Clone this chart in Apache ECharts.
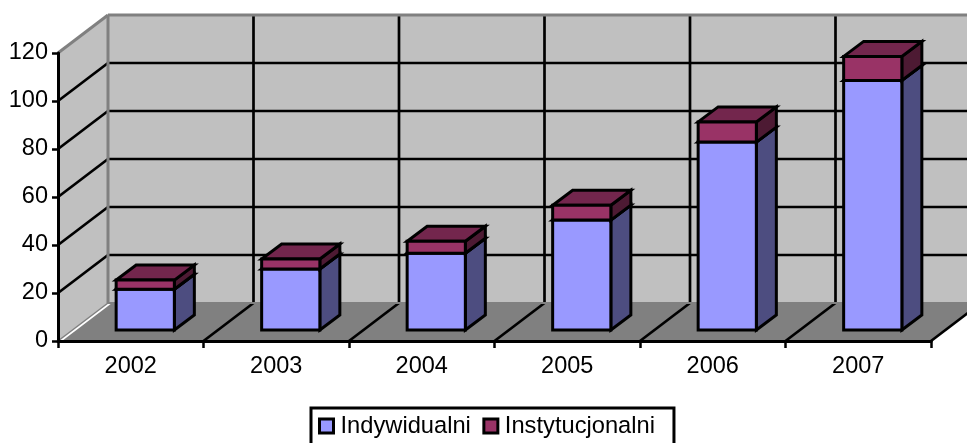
<!DOCTYPE html>
<html>
<head>
<meta charset="utf-8">
<style>
  html, body { margin: 0; padding: 0; background: #fff; overflow: hidden; }
  #chart { width: 967px; height: 443px; }
</style>
</head>
<body>
<div id="chart"></div>
<script src="https://cdn.jsdelivr.net/npm/echarts@6/dist/echarts.min.js"></script>
<script>
var categories = ['2002', '2003', '2004', '2005', '2006', '2007']
var indywidualni = [17, 25.4, 32, 45.8, 78.3, 104]
var instytucjonalni = [3.8, 4.2, 5, 6.2, 8.4, 10]
var yTicks = [20, 40, 60, 80, 100, 120]

var FONT = 'Liberation Sans, Arial, sans-serif'
// offsets of the fake 3d box, in px
var WALL_DX = 50
var WALL_DY = -38
var BAR_DX = 14.5
var BAR_DY = -11
var DEPTH_DX = 20
var DEPTH_DY = -15

function line (x1, y1, x2, y2, color, width) {
  return {
    type: 'line',
    shape: { x1: x1, y1: y1, x2: x2, y2: y2 },
    style: { stroke: color, lineWidth: width || 2.7 }
  }
}

function poly (points, fill, stroke) {
  return {
    type: 'polygon',
    shape: { points: points },
    style: { fill: fill, stroke: stroke, lineWidth: stroke ? 3 : 0, lineJoin: 'miter' }
  }
}

function renderFrame (params, api) {
  var band = api.size([1, 0])[0]
  var start = api.coord([0, 0])[0] - band / 2
  var end = start + band * categories.length
  var y0 = api.coord([0, 0])[1]
  var yTop = api.coord([0, 120])[1]
  var children = [
    // side wall, back wall, floor
    poly([[start, y0], [start + WALL_DX, y0 + WALL_DY], [start + WALL_DX, yTop + WALL_DY], [start, yTop]], '#c0c0c0'),
    poly([[start + WALL_DX, y0 + WALL_DY], [end + WALL_DX, y0 + WALL_DY], [end + WALL_DX, yTop + WALL_DY], [start + WALL_DX, yTop + WALL_DY]], '#c0c0c0'),
    poly([[start + 4, y0], [end, y0], [end + WALL_DX, y0 + WALL_DY], [start + WALL_DX + 4, y0 + WALL_DY]], '#808080')
  ]
  yTicks.forEach(function (t) {
    var y = api.coord([0, t])[1]
    if (t < 120) {
      children.push(line(start, y, start + WALL_DX, y + WALL_DY, '#000'))
      children.push(line(start + WALL_DX, y + WALL_DY, end + WALL_DX, y + WALL_DY, '#000'))
    }
  })
  for (var i = 1; i <= categories.length; i++) {
    var x = start + band * i
    children.push(line(x + WALL_DX, yTop + WALL_DY, x + WALL_DX, y0 + WALL_DY, '#000'))
    children.push(line(x, y0, x + WALL_DX, y0 + WALL_DY, '#000'))
  }
  // grey edges
  children.push(line(start, y0, start + WALL_DX, y0 + WALL_DY, '#808080', 1.5))
  children.push(line(start + WALL_DX, y0 + WALL_DY, end + WALL_DX, y0 + WALL_DY, '#808080', 2))
  children.push(line(start + WALL_DX, y0 + WALL_DY, start + WALL_DX, yTop + WALL_DY, '#808080', 3))
  children.push(line(start, yTop, start + WALL_DX, yTop + WALL_DY, '#808080', 3))
  children.push(line(start + WALL_DX, yTop + WALL_DY, end + WALL_DX, yTop + WALL_DY, '#808080', 3))
  return { type: 'group', children: children }
}

function barRenderer (front, side, top) {
  return function (params, api) {
    var w = api.size([1, 0])[0] * 0.4
    var c = api.coord([api.value(0), api.value(1)])
    var t = api.coord([api.value(0), api.value(2)])
    var x1 = c[0] - w / 2 + BAR_DX
    var x2 = x1 + w
    var yb = c[1] + BAR_DY
    var yt = t[1] + BAR_DY
    return {
      type: 'group',
      children: [
        poly([[x2, yb], [x2 + DEPTH_DX, yb + DEPTH_DY], [x2 + DEPTH_DX, yt + DEPTH_DY], [x2, yt]], side, '#000'),
        poly([[x1, yt], [x2, yt], [x2 + DEPTH_DX, yt + DEPTH_DY], [x1 + DEPTH_DX, yt + DEPTH_DY]], top, '#000'),
        poly([[x1, yb], [x2, yb], [x2, yt], [x1, yt]], front, '#000')
      ]
    }
  }
}

var chart = echarts.init(document.getElementById('chart'))
chart.setOption({
  animation: false,
  backgroundColor: '#fff',
  grid: { left: 58, right: 36, top: 53, bottom: 102 },
  legend: {
    data: ['Indywidualni', 'Instytucjonalni'],
    left: 311,
    top: 408,
    orient: 'horizontal',
    padding: [6, 19, 30, 7],
    itemGap: 11.5,
    itemWidth: 14,
    itemHeight: 14,
    borderColor: '#000',
    borderWidth: 3,
    icon: 'rect',
    itemStyle: { borderColor: '#000', borderWidth: 3 },
    textStyle: { fontFamily: FONT, fontSize: 23.7, color: '#000', padding: [3, 0, 0, 2] }
  },
  xAxis: {
    type: 'category',
    data: categories,
    z: 10,
    axisLine: { lineStyle: { color: '#000', width: 3 } },
    axisTick: { show: true, length: 7, lineStyle: { color: '#000', width: 2.5 } },
    axisLabel: { fontFamily: FONT, fontSize: 23.5, color: '#000', margin: 14 },
    splitLine: { show: false }
  },
  yAxis: {
    type: 'value',
    min: 0,
    max: 120,
    interval: 20,
    z: 10,
    axisLine: { show: true, lineStyle: { color: '#000', width: 3 } },
    axisTick: { show: true, length: 6, lineStyle: { color: '#000', width: 2.5 } },
    axisLabel: { fontFamily: FONT, fontSize: 23.5, color: '#000', margin: 10, padding: [2, 0, 0, 0] },
    splitLine: { show: false }
  },
  series: [
    {
      type: 'custom',
      name: 'frame',
      renderItem: renderFrame,
      data: [[0, 0]],
      z: 1,
      silent: true
    },
    {
      type: 'custom',
      name: 'Indywidualni',
      itemStyle: { color: '#9999ff' },
      renderItem: barRenderer('#9999ff', '#4d4d80', '#73739f'),
      data: categories.map(function (c, i) { return [i, 0, indywidualni[i]] }),
      encode: { x: 0, y: 2 },
      z: 3
    },
    {
      type: 'custom',
      name: 'Instytucjonalni',
      itemStyle: { color: '#993366' },
      renderItem: barRenderer('#993366', '#4d1a33', '#73264d'),
      data: categories.map(function (c, i) {
        return [i, indywidualni[i], indywidualni[i] + instytucjonalni[i]]
      }),
      encode: { x: 0, y: 2 },
      z: 4
    }
  ]
})
</script>
</body>
</html>
